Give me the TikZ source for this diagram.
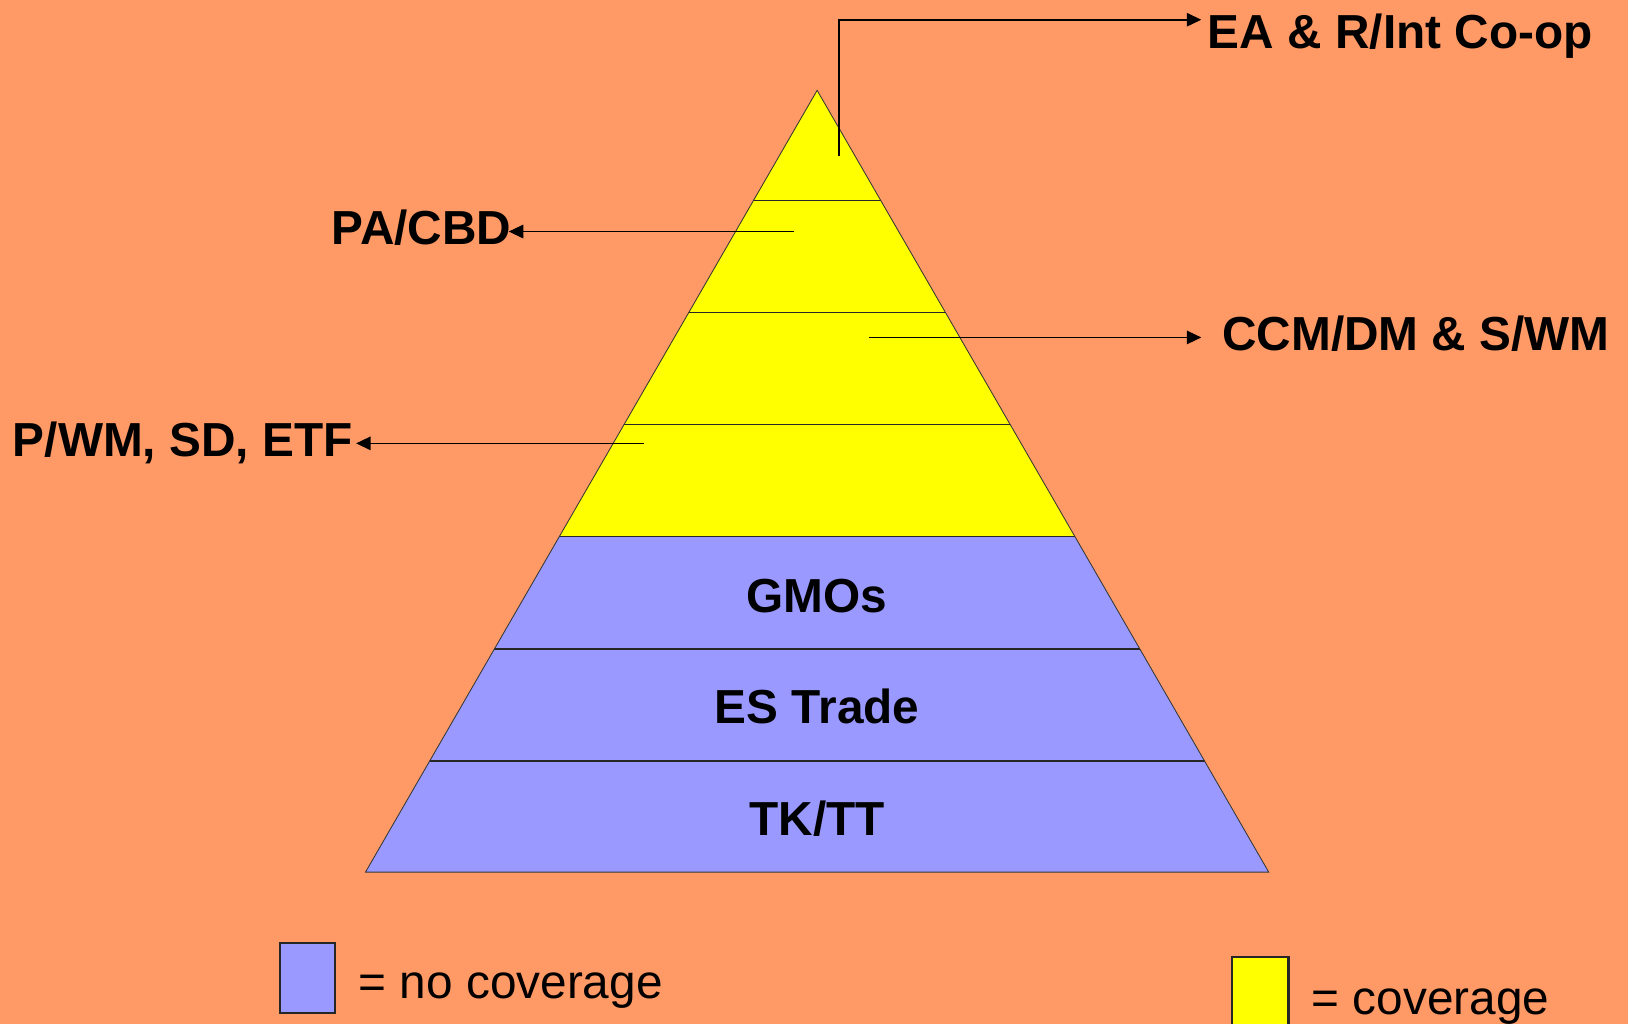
\documentclass[tikz,border=0pt]{standalone}
\usepackage{fontspec}
\setmainfont{Liberation Sans}
\usetikzlibrary{arrows.meta}
\definecolor{bgorange}{HTML}{FF9966}
\definecolor{cover}{HTML}{FFFF00}
\definecolor{nocover}{HTML}{9999FF}
\tikzset{
  lbl/.style={inner sep=0pt, font=\fontsize{23}{27}\selectfont\bfseries},
  legendtxt/.style={inner sep=0pt, anchor=base west, font=\fontsize{23}{27}\selectfont},
  arr/.style={line width=0.75pt, -{Triangle[length=7pt,width=6.5pt]}},
  divider/.style={line width=0.6pt, draw=black!85},
  legendbox/.style={line width=1pt, draw=black!85}
}
\begin{document}
\begin{tikzpicture}[x=0.5pt, y=-0.5pt]
  % page background
  \fill[bgorange] (0,0) rectangle (1568,986);
  \useasboundingbox (0,0) rectangle (1568,986);

  % pyramid: yellow upper part, blue lower part
  \coordinate (apex) at (787,87);
  \coordinate (bl) at (352,840);
  \coordinate (br) at (1222,840);
  \fill[cover] (apex) -- (bl) -- (br) -- cycle;
  \begin{scope}
    \clip (apex) -- (bl) -- (br) -- cycle;
    \fill[nocover] (300,517) rectangle (1300,841);
    \foreach \yy in {193,301,409,517,625,733}
      \draw[divider] (300,\yy) -- (1300,\yy);
  \end{scope}
  \draw[line width=0.4pt, black!80] (apex) -- (bl) -- (br) -- cycle;

  % layer labels
  \node[lbl, anchor=base] (gmo) at (787,590) {GMOs};
  \node[lbl, anchor=base] (est) at (787,697) {ES Trade};
  \node[lbl, anchor=base] (tkt) at (787,805) {TK/TT};

  % side labels
  \node[lbl, anchor=base west] (ea)  at (1163,47)  {EA \& R/Int Co-op};
  \node[lbl, anchor=base east] (pa)  at (493,235)  {PA/CBD};
  \node[lbl, anchor=base west] (ccm) at (1177,338) {CCM/DM \& S/WM};
  \node[lbl, anchor=base east] (pwm) at (340,440)  {P/WM, SD, ETF};

  % connectors from the layers to their labels
  \coordinate (eaStart)  at (808,150);
  \coordinate (eaBend)   at (808,19);
  \coordinate (paStart)  at (765,223);
  \coordinate (ccmStart) at (837,325);
  \coordinate (pwmStart) at (620,427);
  \draw[arr, shorten >=3pt] (eaStart) -- (eaBend) -- (ea.west |- eaBend);
  \draw[arr, shorten >=-1.5pt] (paStart) -- (pa.east |- paStart);
  \draw[arr, shorten >=1.5pt] (ccmStart) -- ([xshift=-8.5pt]ccm.west |- ccmStart);
  \draw[arr, shorten >=1.5pt] (pwmStart) -- (pwm.east |- pwmStart);

  % legend
  \draw[legendbox, fill=nocover] (270,908) rectangle (323,976);
  \node[legendtxt] (lno) at (345,962) {= no coverage};
  \draw[legendbox, fill=cover] (1187,922) rectangle (1241,1000);
  \node[legendtxt] (lyes) at (1263,977) {= coverage};
\end{tikzpicture}
\end{document}
